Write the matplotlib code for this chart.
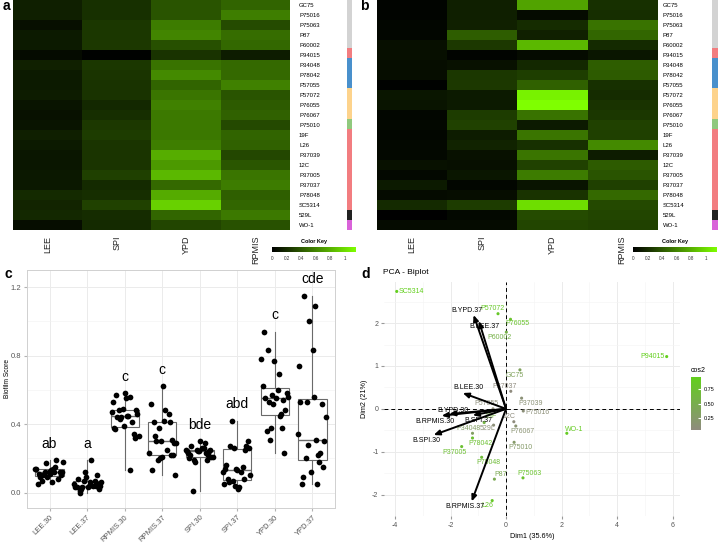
import numpy as np
import matplotlib
matplotlib.use("Agg")
import matplotlib.pyplot as plt
from matplotlib.colors import LinearSegmentedColormap, Normalize, to_rgb
from matplotlib.colorbar import ColorbarBase

plt.rcParams['font.family'] = ['Liberation Sans', 'DejaVu Sans']
plt.rcParams['axes.unicode_minus'] = False

# ---------------- data ----------------
strains = ['GC75', 'P75016', 'P75063', 'P87', 'P60002', 'P94015', 'P34048', 'P78042',
           'P57055', 'P57072', 'P76055', 'P76067', 'P75010', '19F', 'L26', 'P37039',
           '12C', 'P37005', 'P37037', 'P78048', 'SC5314', '529L', 'WO-1']
clades = ['NA'] * 5 + ['I'] + ['II'] * 3 + ['III'] * 3 + ['IV'] + ['I'] * 8 + ['XI'] + ['V']
clade_colors = {'NA': '#d3d3d3', 'I': '#f27d80', 'II': '#4990cc', 'III': '#fdd38c',
                'IV': '#90c97e', 'XI': '#222222', 'V': '#d963d9'}
media = ['LEE', 'SPI', 'YPD', 'RPMIS']

# biofilm scores, one value per strain (same order as strains)
lee30 = [0.14, 0.14, 0.07, 0.12, 0.12, 0.05, 0.15, 0.12, 0.12, 0.13, 0.09, 0.08,
         0.09, 0.14, 0.12, 0.10, 0.10, 0.11, 0.11, 0.19, 0.17, 0.18, 0.06]
spi30 = [0.22, 0.22, 0.25, 0.25, 0.26, 0.01, 0.25, 0.24, 0.23, 0.23, 0.18, 0.21,
         0.26, 0.27, 0.24, 0.24, 0.24, 0.29, 0.19, 0.21, 0.30, 0.20, 0.19]
ypd30 = [0.38, 0.38, 0.56, 0.60, 0.36, 0.23, 0.52, 0.62, 0.45, 0.53, 0.58, 0.55,
         0.55, 0.54, 0.57, 0.78, 0.69, 0.83, 0.48, 0.77, 0.94, 0.46, 0.31]
rpmis30 = [0.45, 0.57, 0.34, 0.49, 0.47, 0.13, 0.48, 0.48, 0.58, 0.38, 0.41, 0.44,
           0.33, 0.45, 0.44, 0.32, 0.39, 0.53, 0.56, 0.43, 0.46, 0.55, 0.37]
lee37 = [0.02, 0.02, 0.03, 0.03, 0.07, 0.07, 0.06, 0.06, 0.01, 0.10, 0.09, 0.03,
         0.04, 0.03, 0.04, 0.04, 0.08, 0.04, 0.12, 0.05, 0.19, 0.00, 0.05]
spi37 = [0.14, 0.14, 0.15, 0.42, 0.26, 0.02, 0.08, 0.25, 0.26, 0.12, 0.12, 0.27,
         0.30, 0.13, 0.16, 0.08, 0.07, 0.10, 0.03, 0.06, 0.27, 0.04, 0.05]
ypd37 = [0.74, 0.05, 0.20, 0.15, 0.83, 0.05, 0.18, 0.28, 0.44, 1.09, 1.15, 0.52,
         0.12, 0.53, 0.22, 0.53, 0.30, 0.56, 0.09, 0.23, 1.00, 0.34, 0.31]
rpmis37 = [0.22, 0.21, 0.52, 0.46, 0.19, 0.10, 0.42, 0.41, 0.22, 0.20, 0.23, 0.25,
           0.30, 0.29, 0.62, 0.13, 0.41, 0.38, 0.29, 0.48, 0.33, 0.31, 0.30]

groups = ['LEE.30', 'LEE.37', 'RPMIS.30', 'RPMIS.37', 'SPI.30', 'SPI.37', 'YPD.30', 'YPD.37']
letters = ['ab', 'a', 'c', 'c', 'bde', 'abd', 'c', 'cde']

# PCA individuals (Dim1, Dim2, cos2) and where their labels sit
pc1 = [0.50, 0.62, 0.61, -0.42, 0.01, 5.79, -1.21, -1.21, -0.47, -0.29, 0.16, 0.35,
       0.29, -0.79, -0.50, 0.56, 0.28, -1.60, 0.17, -0.88, -3.94, -0.45, 2.19]
pc2 = [0.91, -0.05, -1.61, -1.64, 1.79, 1.22, -0.57, -0.68, 0.00, 2.22, 2.09, -0.40,
       -0.78, -0.32, -2.14, 0.25, -0.30, -0.88, 0.41, -1.13, 2.74, -0.38, -0.57]
cos2 = [0.35, 0.10, 0.80, 0.45, 0.55, 0.96, 0.30, 0.75, 0.08, 0.85, 0.80, 0.15,
        0.25, 0.60, 0.85, 0.12, 0.05, 0.75, 0.04, 0.70, 0.96, 0.10, 0.90]
lab_x = [0.30, 1.14, 0.83, -0.20, -0.22, 5.27, -1.36, -0.91, -0.72, -0.48, 0.42, 0.58,
         0.52, -0.54, -0.68, 0.88, 0.12, -1.86, -0.05, -0.65, -3.42, -0.66, 2.44]
lab_y = [0.78, -0.09, -1.51, -1.53, 1.67, 1.22, -0.46, -0.80, 0.13, 2.33, 1.99, -0.53,
         -0.90, -0.19, -2.26, 0.13, -0.19, -1.01, 0.51, -1.25, 2.74, -0.47, -0.48]

# PCA variables (arrow tips) and label positions
var_names = ['B.YPD.37', 'B.LEE.37', 'B.LEE.30', 'B.YPD.30', 'B.RPMIS.30', 'B.SPI.37',
             'B.SPI.30', 'B.RPMIS.37']
var_x = [-1.17, -0.98, -1.56, -2.05, -2.32, -1.20, -2.61, -1.24]
var_y = [2.19, 2.05, 0.37, -0.12, -0.16, -0.15, -0.61, -2.16]
var_lab_x = [-1.42, -0.78, -1.35, -1.92, -2.58, -1.00, -2.86, -1.49]
var_lab_y = [2.30, 1.93, 0.50, -0.03, -0.29, -0.28, -0.74, -2.28]

# ---------------- layout helpers ----------------
W, H = 718, 543
fig = plt.figure(figsize=(W / 100, H / 100), dpi=100)


def px_axes(x0, y0, x1, y1):
    return fig.add_axes([x0 / W, 1 - y1 / H, (x1 - x0) / W, (y1 - y0) / H])


heat_cmap = LinearSegmentedColormap.from_list('blk_green', ['#000000', '#7fff00'])
heat_max = 1.15


def draw_heatmap(box, side_box, key_box, cols, pad):
    ax = px_axes(*box)
    mat = np.array(cols).T
    ax.imshow(mat, cmap=heat_cmap, vmin=0, vmax=heat_max, aspect='auto',
              interpolation='nearest')
    ax.set_xticks(range(len(media)))
    ax.set_xticklabels(media, rotation=90, fontsize=6.5, color='#222222')
    ax.set_yticks(range(len(strains)))
    ax.set_yticklabels(strains, fontsize=4.3)
    ax.yaxis.tick_right()
    ax.tick_params(axis='y', length=0, pad=pad)
    ax.tick_params(axis='x', length=0, pad=4)
    for s in ax.spines.values():
        s.set_visible(False)

    # clade side bar
    sax = px_axes(*side_box)
    sax.imshow(np.array([[to_rgb(clade_colors[c])] for c in clades]), aspect='auto',
               interpolation='nearest')
    sax.set_ylim(len(strains) - 0.5, -0.2)
    sax.axis('off')

    # color key
    kax = px_axes(*key_box)
    kax.imshow(np.linspace(0, heat_max, 256)[None, :], cmap=heat_cmap, vmin=0,
               vmax=heat_max, aspect='auto', extent=[0, heat_max, 0, 1])
    kax.set_xlim(0, heat_max)
    kax.set_yticks([])
    kax.set_xticks([0, 0.2, 0.4, 0.6, 0.8, 1])
    kax.set_xticklabels(['0', '0.2', '0.4', '0.6', '0.8', '1'])
    kax.tick_params(axis='x', length=0, labelsize=3.3, pad=3, colors='#333333')
    for s in kax.spines.values():
        s.set_visible(False)
    kx = (key_box[0] + key_box[2]) / 2
    fig.text(kx / W, 1 - 241 / H, 'Color Key', fontsize=4, fontweight='bold',
             ha='center', va='center')


# panel a (30 C) and b (37 C)
draw_heatmap((13, 0, 290, 230), (347, 0, 352, 230), (272, 247, 356, 252),
             [lee30, spi30, ypd30, rpmis30], 6.5)
draw_heatmap((377, 0, 657, 230), (712, 0, 718, 230), (633, 247, 717, 252),
             [lee37, spi37, ypd37, rpmis37], 4.3)

# ---------------- panel c: boxplot ----------------
group_vals = [lee30, lee37, rpmis30, rpmis37, spi30, spi37, ypd30, ypd37]
axc = px_axes(27, 270, 335, 508)
pos = np.arange(1, len(groups) + 1)
axc.boxplot(group_vals, positions=pos, widths=0.75, whis=(0, 100), showfliers=False,
            patch_artist=True,
            boxprops=dict(facecolor='white', edgecolor='#6a6a6a', linewidth=0.8),
            medianprops=dict(color='#6a6a6a', linewidth=1.0),
            whiskerprops=dict(color='#6a6a6a', linewidth=0.8),
            capprops=dict(linewidth=0), zorder=2)
for g, vals in enumerate(group_vals):
    n = len(vals)
    # deterministic horizontal jitter
    offs = [((i * 0.618034 + g * 0.29) % 1) * 0.76 - 0.38 for i in range(n)]
    axc.scatter(pos[g] + np.array(offs), vals, s=17, color='black', zorder=3,
                linewidths=0)
    axc.text(pos[g], max(vals) + 0.095, letters[g], fontsize=10, ha='center',
             va='center')
axc.set_xlim(0.4, len(groups) + 0.6)
axc.set_ylim(-0.09, 1.30)
axc.set_yticks([0, 0.4, 0.8, 1.2])
axc.set_yticklabels(['0.0', '0.4', '0.8', '1.2'])
axc.set_yticks([0.2, 0.6, 1.0], minor=True)
axc.set_xticks(pos)
axc.set_xticklabels(groups, rotation=45, ha='right', rotation_mode='anchor')
axc.grid(True, which='major', color='#ebebeb', lw=0.7)
axc.grid(True, which='minor', axis='y', color='#f2f2f2', lw=0.4)
axc.set_axisbelow(True)
axc.tick_params(which='major', length=2, color='#b3b3b3', labelsize=5.5,
                labelcolor='#555555', pad=2)
axc.tick_params(which='minor', length=0)
for s in axc.spines.values():
    s.set_color('#d0d0d0')
    s.set_linewidth(0.7)
fig.text(8 / W, 1 - 379 / H, 'Biofilm Score', fontsize=4.8, rotation=90,
         ha='center', va='center')

# ---------------- panel d: PCA biplot ----------------
cos2_cmap = LinearSegmentedColormap.from_list('cos2', ['#8f8b7e', '#62cf1c'])
cos2_norm = Normalize(vmin=0.04, vmax=0.96)
axd = px_axes(384, 282, 680, 516)
axd.set_xlim(-4.40, 6.27)
axd.set_ylim(-2.42, 2.96)
axd.set_xticks([-4, -2, 0, 2, 4, 6])
axd.set_xticks([-3, -1, 1, 3, 5], minor=True)
axd.set_yticks([-2, -1, 0, 1, 2])
axd.set_yticks([-2.5, -1.5, -0.5, 0.5, 1.5, 2.5], minor=True)
axd.grid(True, which='major', color='#ebebeb', lw=0.7)
axd.grid(True, which='minor', color='#f4f4f4', lw=0.4)
axd.set_axisbelow(True)
for s in axd.spines.values():
    s.set_visible(False)
axd.tick_params(which='major', length=2, color='#999999', labelsize=5,
                labelcolor='#555555', pad=2)
axd.tick_params(which='minor', length=0)
axd.axhline(0, color='black', lw=0.7, ls=(0, (4, 3)), zorder=1)
axd.axvline(0, color='black', lw=0.7, ls=(0, (4, 3)), zorder=1)

axd.scatter(pc1, pc2, c=cos2, cmap=cos2_cmap, norm=cos2_norm, s=5, zorder=2,
            linewidths=0)
for i, name in enumerate(strains):
    axd.text(lab_x[i], lab_y[i], name, fontsize=5, ha='center', va='center',
             color=cos2_cmap(cos2_norm(cos2[i])), zorder=2)
for i, name in enumerate(var_names):
    axd.text(var_lab_x[i], var_lab_y[i], name, fontsize=5, ha='center', va='center',
             color='black', zorder=3)
    axd.annotate('', xy=(var_x[i], var_y[i]), xytext=(0, 0),
                 arrowprops=dict(arrowstyle='-|>,head_length=0.35,head_width=0.15',
                                 lw=1.4, color='black', shrinkA=0, shrinkB=0),
                 zorder=4)
axd.set_xlabel('Dim1 (35.6%)', fontsize=5.2, labelpad=3)
axd.set_ylabel('Dim2 (21%)', fontsize=5.2, labelpad=3)
fig.text(383 / W, 1 - 273 / H, 'PCA - Biplot', fontsize=6, ha='left', va='center')

# cos2 legend
cax = px_axes(691, 377, 701, 430)
cb = ColorbarBase(cax, cmap=cos2_cmap, norm=cos2_norm, ticks=[0.25, 0.5, 0.75])
cb.ax.set_yticklabels(['0.25', '0.50', '0.75'])
cb.outline.set_visible(False)
cb.ax.tick_params(length=2, color='white', direction='in', labelsize=4, pad=2)
fig.text(691 / W, 1 - 370 / H, 'cos2', fontsize=5, ha='left', va='center')

# panel letters
for lab, x, y in [('a', 6, 6), ('b', 364, 6), ('c', 8, 274), ('d', 366, 274)]:
    fig.text(x / W, 1 - y / H, lab, fontsize=10, fontweight='bold', ha='center',
             va='center')

fig.savefig('out.png', dpi=100)
